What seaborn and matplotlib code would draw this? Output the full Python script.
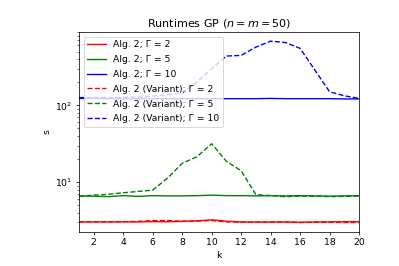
import numpy as np
import pandas as pd
import seaborn as sb
import matplotlib
matplotlib.use("Agg")
import matplotlib.pyplot as plt

# runtimes (seconds), k = 1..20
k = list(range(1, 21))
alg2_g2 = [3.05, 3.05, 3.05, 3.06, 3.05, 3.08, 3.07, 3.1, 3.15, 3.25, 3.12, 3.05, 3.04, 3.05, 3.05, 3.02, 3.05, 3.06, 3.07, 3.08]
alg2_g5 = [6.6, 6.6, 6.5, 6.7, 6.55, 6.7, 6.65, 6.65, 6.7, 6.8, 6.7, 6.7, 6.65, 6.7, 6.65, 6.7, 6.65, 6.6, 6.65, 6.7]
alg2_g10 = [123, 123, 122, 122, 122, 122, 122, 122, 122, 122, 122, 122, 122, 123, 122, 122, 122, 122, 121, 121]
var_g2 = [3.05, 3.06, 3.07, 3.07, 3.1, 3.18, 3.18, 3.12, 3.12, 3.18, 3.05, 3.03, 3.03, 3.03, 3.05, 3.0, 3.02, 3.02, 3.0, 3.0]
var_g5 = [6.6, 6.8, 6.98, 7.3, 7.6, 7.9, 11.3, 17.6, 21.5, 31.7, 18.7, 14.1, 6.9, 6.7, 6.5, 6.6, 6.6, 6.5, 6.55, 6.6]
var_g10 = [126, 126, 126, 127, 128, 132, 138, 144, 200, 300, 437, 446, 571, 684, 655, 550, 287, 150, 133, 123]

series = [
    ("Alg. 2; Γ = 2", alg2_g2, "red", "-"),
    ("Alg. 2; Γ = 5", alg2_g5, "green", "-"),
    ("Alg. 2; Γ = 10", alg2_g10, "blue", "-"),
    ("Alg. 2 (Variant); Γ = 2", var_g2, "red", "--"),
    ("Alg. 2 (Variant); Γ = 5", var_g5, "green", "--"),
    ("Alg. 2 (Variant); Γ = 10", var_g10, "blue", "--"),
]

dpi = 66.5
fig, ax = plt.subplots(figsize=(6, 4), dpi=dpi)
for label, vals, col, ls in series:
    df = pd.DataFrame({"k": k, "s": vals})
    sb.lineplot(data=df, x="k", y="s", color=col, linestyle=ls, label=label, ax=ax)

ax.set_yscale("log")
ax.set_xlim(1, 20)
ax.set_ylim(2.26, 900)
ax.set_xticks(range(2, 21, 2))
ax.set(xlabel="k", ylabel="s", title="Runtimes GP ($n = m = 50$)")
ax.legend(loc="upper left", labelspacing=0.63)
fig.subplots_adjust(left=0.198, right=0.9, top=0.88, bottom=0.128)
fig.savefig("out.png", dpi=dpi)
